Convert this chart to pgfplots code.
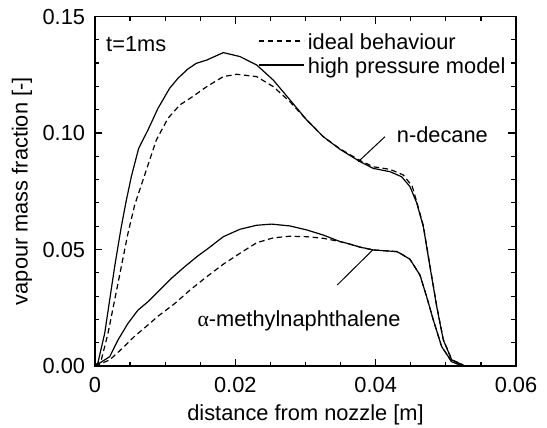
\documentclass[border=0pt]{standalone}
\usepackage{pgfplots}
\pgfplotsset{compat=1.18}
\usepackage{fontspec}
\setmainfont{Liberation Sans}
\newfontfamily\seriffont{Liberation Serif}
\begin{document}
\fontsize{21.8bp}{25bp}\selectfont
\begin{tikzpicture}
\useasboundingbox (-95bp,-62bp) rectangle (452bp,366bp);
\begin{axis}[
  at={(0,0)}, anchor=south west,
  scale only axis, width=421bp, height=349.5bp,
  xmin=0, xmax=0.06, ymin=0, ymax=0.15,
  xtick={0,0.02,0.04,0.06}, ytick={0,0.05,0.1,0.15},
  minor x tick num=3, minor y tick num=4,
  tick align=inside,
  major tick length=7.5bp, minor tick length=4.5bp,
  axis line style={line width=1.6bp},
  every tick/.style={black, line width=1.2bp},
  scaled ticks=false,
  /pgf/number format/assume math mode=true,
  xticklabel style={yshift=-3.5bp, /pgf/number format/.cd, fixed, precision=2, assume math mode=true},
  yticklabel style={xshift=-2.5bp, /pgf/number format/.cd, fixed, fixed zerofill, precision=2, assume math mode=true},
  xlabel={distance from nozzle [m]},
  ylabel={vapour mass fraction [-]},
  xlabel style={at={(axis description cs:0.5,-0.157)}, anchor=base, inner sep=0pt},
  ylabel style={at={(axis description cs:-0.160,0.5)}, anchor=base, inner sep=0pt},
  legend style={at={(axis cs:0.02323,0.1427)}, anchor=north west, draw=none, fill=none,
    inner sep=0pt, outer sep=0pt, column sep=3.7bp, row sep=4bp,
    nodes={inner sep=0pt, text height=15.5bp, text depth=4.5bp}},
  legend cell align=left,
  legend image code/.code={\draw[#1] (0bp,2.5bp) -- (45bp,2.5bp);},
]
% n-decane ideal (dashed)
\addplot[black, line width=1.2bp, dash pattern=on 5.5bp off 3.5bp] coordinates {
(0,0) (0.0009,0.0026) (0.00185,0.0140) (0.0028,0.0283) (0.00375,0.0426) (0.0047,0.0570)
(0.00566,0.0691) (0.00731,0.0841) (0.00874,0.0970) (0.01040,0.1063) (0.01207,0.1120)
(0.01401,0.1158) (0.01592,0.1199) (0.01829,0.1242) (0.02019,0.1252) (0.02304,0.1242)
(0.02541,0.1199) (0.02779,0.1134) (0.03017,0.1056) (0.03254,0.0984) (0.03492,0.0932)
(0.03777,0.0882) (0.03967,0.0855) (0.04204,0.0844) (0.04394,0.0820) (0.0452,0.0772)
(0.04585,0.0705) (0.04679,0.0603) (0.04774,0.0430) (0.04870,0.0258) (0.04964,0.0114)
(0.05084,0.0027) (0.05249,0.0004)};
\addlegendentry{ideal behaviour}
% n-decane high pressure (solid)
\addplot[black, line width=1.2bp] coordinates {
(0,0) (0.0004,0.0012) (0.00138,0.0140) (0.00209,0.0283) (0.00280,0.0426) (0.00375,0.0598)
(0.00447,0.0712) (0.00518,0.0813) (0.00622,0.0934) (0.00755,0.1013) (0.00898,0.1106)
(0.01064,0.1192) (0.01183,0.1235) (0.01325,0.1275) (0.01444,0.1299) (0.01592,0.1313)
(0.01829,0.1345) (0.02067,0.1328) (0.02304,0.1292) (0.02541,0.1227) (0.02779,0.1142)
(0.03017,0.1056) (0.03254,0.0984) (0.03492,0.0930) (0.03777,0.0877) (0.03967,0.0848)
(0.04204,0.0834) (0.04371,0.0812) (0.04489,0.0770) (0.04585,0.0700) (0.04679,0.0598)
(0.04774,0.0426) (0.04870,0.0255) (0.04964,0.0112) (0.05084,0.0026) (0.05249,0.0004)};
\addlegendentry{high pressure model}
% alpha-methylnaphthalene ideal (dashed)
\addplot[forget plot, black, line width=1.2bp, dash pattern=on 5.5bp off 3.5bp] coordinates {
(0,0) (0.0021,0.0026) (0.0039,0.0076) (0.00566,0.0128) (0.00755,0.0176) (0.00900,0.0214)
(0.01136,0.0268) (0.01354,0.0326) (0.01592,0.0383) (0.01829,0.0437) (0.02067,0.0484)
(0.02304,0.0529) (0.02541,0.0550) (0.02779,0.0557) (0.03017,0.0555) (0.03254,0.0548)
(0.03492,0.0534) (0.03587,0.0527) (0.03780,0.0510) (0.03967,0.0498) (0.0430,0.0491)
(0.04347,0.0484) (0.04489,0.0458) (0.04632,0.0390) (0.04727,0.0297) (0.04822,0.0197)
(0.04941,0.0083) (0.05084,0.0018) (0.0525,0.0)};
% alpha-methylnaphthalene high pressure (solid)
\addplot[forget plot, black, line width=1.2bp] coordinates {
(0,0) (0.0021,0.0040) (0.00328,0.0112) (0.0047,0.0183) (0.00613,0.0240) (0.00755,0.0276)
(0.00898,0.0319) (0.01088,0.0376) (0.01278,0.0426) (0.01468,0.0473) (0.01592,0.0500)
(0.01829,0.0555) (0.02067,0.0587) (0.02304,0.0604) (0.02518,0.0609) (0.02779,0.0601)
(0.03017,0.0584) (0.03254,0.0562) (0.03492,0.0534) (0.03587,0.0527) (0.03780,0.0510)
(0.03967,0.0498) (0.0430,0.0491) (0.04347,0.0484) (0.04489,0.0458) (0.04632,0.0390)
(0.04727,0.0297) (0.04822,0.0197) (0.04941,0.0083) (0.05084,0.0018) (0.0525,0.0)};
% pointer lines
\addplot[forget plot, black, line width=1bp] coordinates {(0.04132,0.0984) (0.03753,0.0877)};
\addplot[forget plot, black, line width=1bp] coordinates {(0.03453,0.0348) (0.03958,0.0498)};
\node[anchor=base west, inner sep=0pt] at (axis cs:0.00157,0.1349) {t=1ms};
\node[anchor=base west, inner sep=0pt] at (axis cs:0.0430,0.0958) {n-decane};
\node[anchor=base, inner sep=0pt] at (axis cs:0.02907,0.01687) {{\seriffont α}-methylnaphthalene};
\end{axis}
\end{tikzpicture}
\end{document}
